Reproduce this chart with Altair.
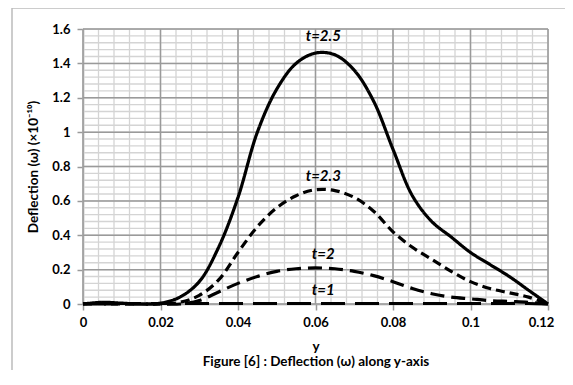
import altair as alt
import pandas as pd

# x positions along y-axis
ys = [0, 0.005, 0.01, 0.015, 0.02, 0.025, 0.03, 0.035, 0.04, 0.045, 0.05, 0.055, 0.06,
      0.065, 0.07, 0.075, 0.08, 0.085, 0.09, 0.095, 0.1, 0.105, 0.11, 0.115, 0.12]
t25 = [0, 0.01, 0.005, 0.0, 0.005, 0.04, 0.13, 0.33, 0.62, 1.00, 1.25, 1.40, 1.46,
       1.45, 1.36, 1.18, 0.90, 0.63, 0.48, 0.39, 0.30, 0.23, 0.16, 0.08, 0.0]
t23 = [0, 0, 0, 0, 0, 0.01, 0.05, 0.14, 0.30, 0.45, 0.56, 0.63, 0.665,
       0.66, 0.62, 0.54, 0.42, 0.33, 0.26, 0.19, 0.13, 0.09, 0.065, 0.04, 0.0]
t2 = [0, 0, 0, 0, 0, 0, 0.02, 0.07, 0.12, 0.16, 0.19, 0.205, 0.21,
      0.205, 0.19, 0.165, 0.13, 0.09, 0.06, 0.04, 0.03, 0.02, 0.015, 0.01, 0.0]
t1 = [0.003] * 24 + [0.0]

label_text = ["t=2.5", "t=2.3", "t=2", "t=1"]
label_x = [0.062, 0.062, 0.062, 0.062]
label_y = [1.51, 0.70, 0.245, 0.035]

x_major = [0, 0.02, 0.04, 0.06, 0.08, 0.1, 0.12]
x_minor = [i * 0.004 for i in range(31)]
y_major = [0, 0.2, 0.4, 0.6, 0.8, 1.0, 1.2, 1.4, 1.6]
y_minor = [i * 0.04 for i in range(41)]

FONT = "Lato"

xs = alt.Scale(domain=[0, 0.12], nice=False)
ysc = alt.Scale(domain=[0, 1.6], nice=False)

x_axis = alt.Axis(values=x_major, grid=False, format=".2~f", labelOverlap=False, labelFlush=False,
                  labelFont=FONT, labelFontSize=13, labelFontWeight="bold",
                  labelColor="black", labelPadding=6,
                  labelOffset={"expr": "datum.value > 0.119 ? -7 : 0"},
                  tickColor="#9a9a9a", tickSize=6, tickWidth=1.5, domainColor="#9a9a9a", domainWidth=1.5,
                  title=["y", "Figure [6] : Deflection  (ω) along y-axis"],
                  titleFont=FONT, titleFontSize=13.5, titleFontWeight="bold",
                  titleColor="black", titlePadding=10, titleLineHeight=15)
y_axis = alt.Axis(values=y_major, grid=False, format="~g", labelOverlap=False, labelFlush=False,
                  labelFont=FONT, labelFontSize=13, labelFontWeight="bold",
                  labelColor="black", labelPadding=7,
                  tickColor="#9a9a9a", tickSize=6, tickWidth=1.5, domainColor="#9a9a9a", domainWidth=1.5,
                  title="Deflection (ω)    (×10⁻¹⁰)",
                  titleFont=FONT, titleFontSize=13.5, titleFontWeight="bold",
                  titleColor="black", titlePadding=11)


def X(f):
    return alt.X(f, scale=xs, axis=x_axis)


def Y(f):
    return alt.Y(f, scale=ysc, axis=y_axis)


minor_x = alt.Chart(pd.DataFrame({"v": x_minor})).mark_rule(color="#d4d4d4", strokeWidth=1.3).encode(
    x=X("v:Q"))
minor_y = alt.Chart(pd.DataFrame({"v": y_minor})).mark_rule(color="#d4d4d4", strokeWidth=1.3).encode(
    y=Y("v:Q"))
major_x = alt.Chart(pd.DataFrame({"v": x_major})).mark_rule(color="#9a9a9a", strokeWidth=1.5).encode(
    x=X("v:Q"))
major_y = alt.Chart(pd.DataFrame({"v": y_major})).mark_rule(color="#9a9a9a", strokeWidth=1.5).encode(
    y=Y("v:Q"))

rows = []
for name, vals in [("t=1", t1), ("t=2", t2), ("t=2.3", t23), ("t=2.5", t25)]:
    for x, v in zip(ys, vals):
        rows.append({"y": x, "w": v, "series": name})
df = pd.DataFrame(rows)

dashes = {"t=2.5": [1, 0], "t=2.3": [9, 5], "t=2": [14, 7], "t=1": [24, 10]}

lines = []
for name in ["t=1", "t=2", "t=2.3", "t=2.5"]:
    lines.append(
        alt.Chart(df[df.series == name]).mark_line(
            color="black", strokeWidth=3.2, interpolate="catmull-rom",
            strokeDash=dashes[name], strokeCap="butt"
        ).encode(x=X("y:Q"), y=Y("w:Q"))
    )

labels = alt.Chart(pd.DataFrame({"t": label_text, "x": label_x, "yv": label_y})).mark_text(
    font=FONT, fontSize=15, fontWeight="bold", fontStyle="italic", color="black",
    align="center", baseline="bottom"
).encode(x=X("x:Q"), y=Y("yv:Q"), text="t:N")

frame = alt.Chart(pd.DataFrame({"a": [0]})).mark_rule(color="#bbbbbb", strokeWidth=1.5).encode(
    x=alt.value(-71), y=alt.value(-21), y2=alt.value(400))
frame_top = alt.Chart(pd.DataFrame({"a": [0]})).mark_rule(color="#bbbbbb", strokeWidth=1.5).encode(
    x=alt.value(-71), x2=alt.value(600), y=alt.value(-21))

chart = alt.layer(minor_x, minor_y, major_x, major_y, *lines, labels, frame, frame_top).properties(
    width=465, height=275,
    autosize=alt.AutoSizeParams(type="none"),
    padding={"left": 75, "top": 21, "right": 17, "bottom": 66},
).configure_view(stroke=None).configure(background="white")

chart.save("out.html", embed_options={"renderer": "svg", "actions": False})
